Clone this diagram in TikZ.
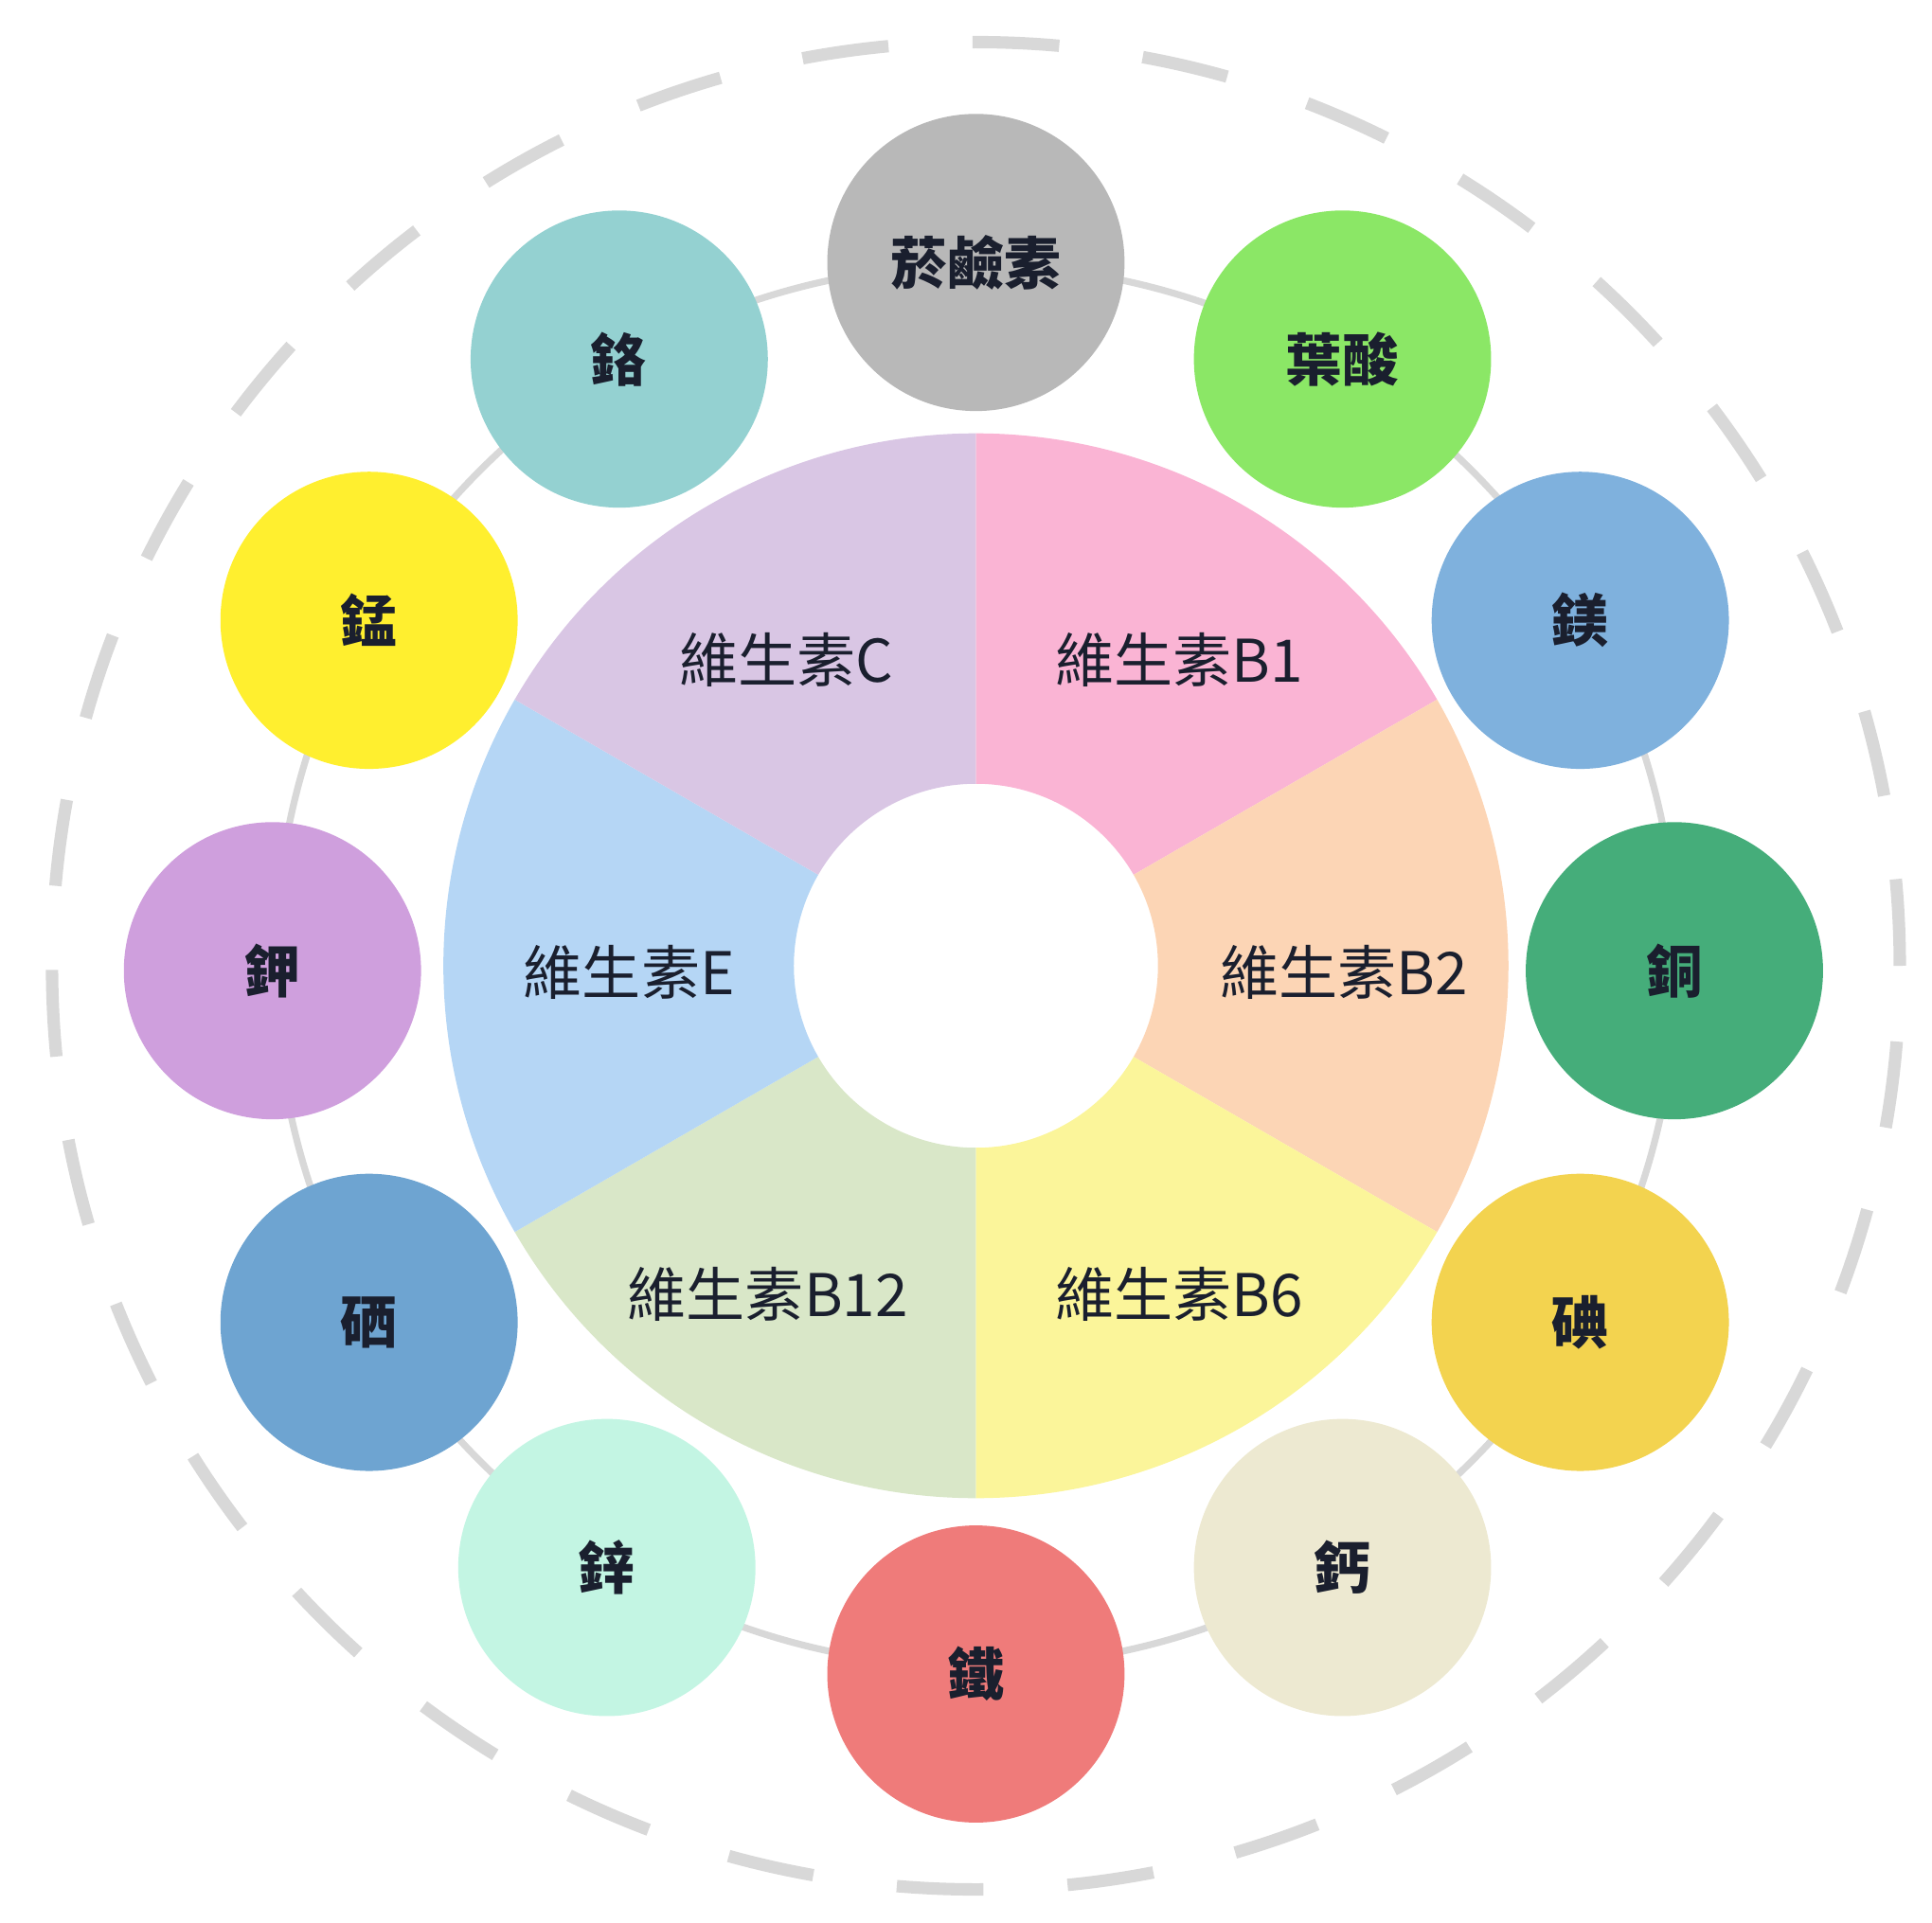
\documentclass[tikz,border=0pt]{standalone}
\usepackage{fontspec}
\setmainfont{Noto Sans CJK TC}
\definecolor{txt}{HTML}{1A1F2E}
\definecolor{ringgray}{HTML}{D8D8D8}
\tikzset{
  wedge/.style={draw=none},
  ball/.style={circle,minimum size=240\pgflinewidth,inner sep=0pt,font=\fontsize{13}{13}\selectfont\bfseries,text=txt},
  seclabel/.style={font=\fontsize{13.5}{14}\selectfont,text=txt}
}
\begin{document}
\begin{tikzpicture}[x=0.01cm,y=0.01cm]
  \useasboundingbox (0,0) rectangle (1560,1553);
  \coordinate (c) at (788,773);
  % outer dashed ring and the thin ring behind the circles
  \draw[ringgray,line width=0.1cm,dash pattern=on 0.7cm off 0.68cm] (c) circle (746);
  \draw[ringgray,line width=0.055cm] (c) circle (566);
  % ring of vitamins
  \foreach \a/\b/\col in {90/30/FAB4D4,30/-30/FCD5B5,-30/-90/FBF59A,-90/-150/D9E7C8,-150/-210/B5D6F5,150/90/D9C6E4}{
    \definecolor{sec}{HTML}{\col}
    \fill[sec] ([shift={(\a:430)}]c) arc (\a:\b:430) -- ([shift={(\b:147)}]c) arc (\b:\a:147) -- cycle;
  }
  \node[seclabel] (vb1) at (952,1020) {維生素B1};
  \node[seclabel] (vb2) at (1085,768) {維生素B2};
  \node[seclabel] (vb6) at (952,508) {維生素B6};
  \node[seclabel] (vb12) at (620,508) {維生素B12};
  \node[seclabel] (ve) at (508,768) {維生素E};
  \node[seclabel] (vc) at (635,1020) {維生素C};
  % minerals
  \foreach \n/\x/\y/\col/\t in {nia/788/1341/B8B8B8/菸鹼素,fol/1084/1263/8BE766/葉酸,mg/1276/1052/7FB1DD/鎂,cu/1352/769/45AD7A/銅,io/1276/485/F3D34F/碘,ca/1084/287/EDE9D1/鈣,fe/788/201/EF7B7A/鐵,zn/490/287/C3F5E3/鋅,se/298/485/6EA4D1/硒,k/220/769/CF9FDD/鉀,mn/298/1052/FFEF2F/錳,cr/500/1263/94D1D1/鉻}{
    \definecolor{bc}{HTML}{\col}
    \fill[bc] (\x,\y) circle (120);
    \node[ball] (\n) at (\x,\y) {\t};
  }
\end{tikzpicture}
\end{document}
